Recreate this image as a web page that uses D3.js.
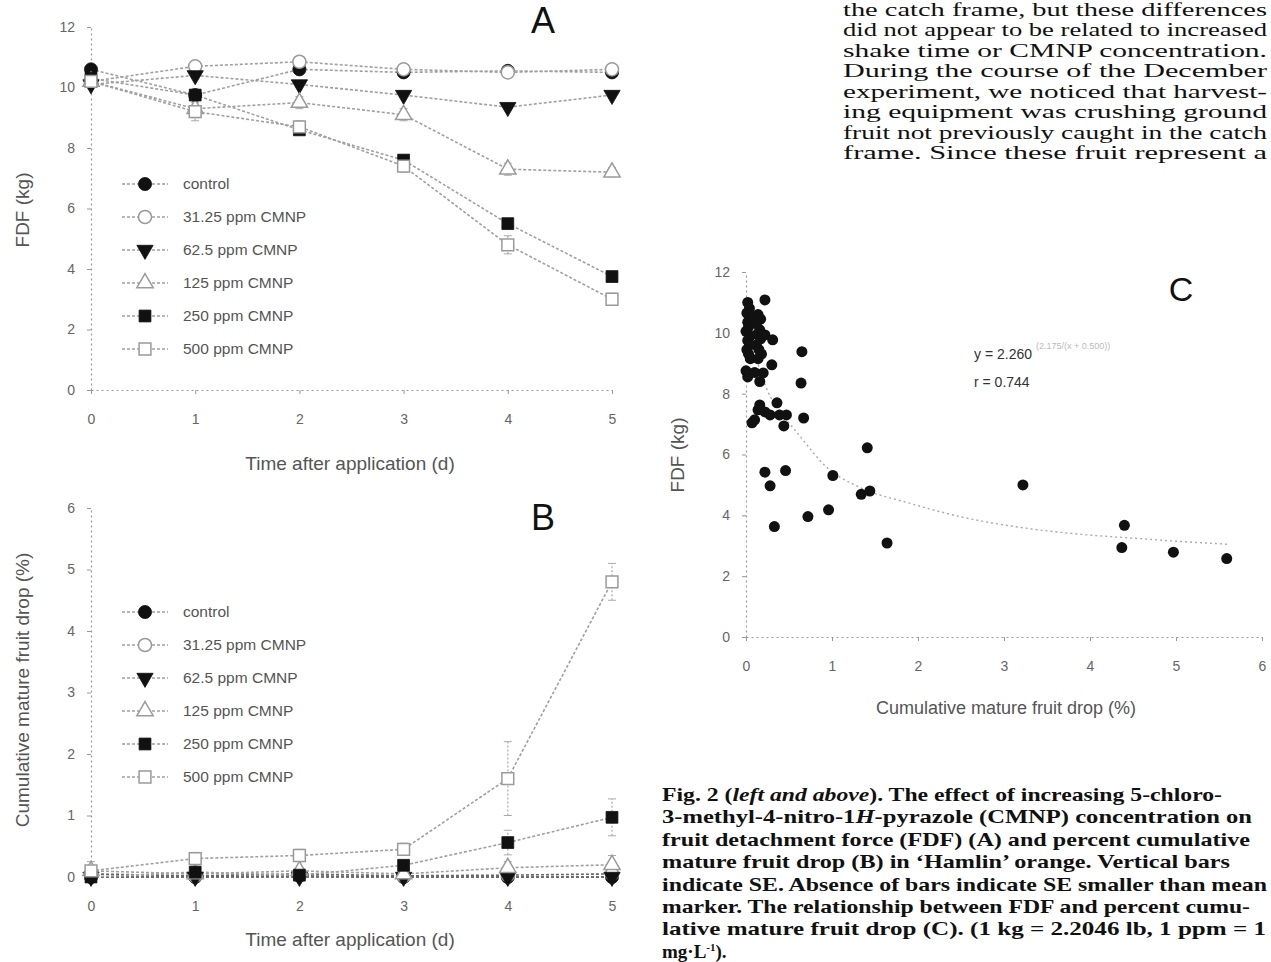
<!DOCTYPE html>
<html><head><meta charset="utf-8">
<script src="https://cdn.jsdelivr.net/npm/d3@7"></script>
<style>body{margin:0;background:#fff}svg{display:block}</style>
</head><body>
<svg id="c" width="1271" height="962"></svg>
<script>
// ---------- DATA ----------
const days = [0, 1, 2, 3, 4, 5];
const seriesNames = ["control", "31.25 ppm CMNP", "62.5 ppm CMNP", "125 ppm CMNP", "250 ppm CMNP", "500 ppm CMNP"];
const seriesSymbols = ["circleFilled", "circleOpen", "triDownFilled", "triUpOpen", "squareFilled", "squareOpen"];

// Panel A: FDF (kg)
const fdfControl = [10.6, 9.75, 10.6, 10.5, 10.55, 10.5];
const fdf3125    = [10.2, 10.7, 10.85, 10.6, 10.5, 10.6];
const fdf625     = [10.1, 10.4, 10.1, 9.75, 9.35, 9.75];
const fdf125     = [10.2, 9.3, 9.5, 9.1, 7.3, 7.2];
const fdf250     = [10.3, 9.75, 8.6, 7.6, 5.5, 3.75];
const fdf500     = [10.2, 9.2, 8.7, 7.4, 4.8, 3.0];
const fdfSE500   = [0, 0.3, 0.2, 0.2, 0.3, 0.2];
const fdfSE125   = [0, 0.3, 0.2, 0.2, 0.2, 0.15];

// Panel B: cumulative mature fruit drop (%)
const dropControl = [0, 0, 0.02, 0, 0, 0];
const drop3125    = [0.05, 0.02, 0.05, 0.02, 0.03, 0.05];
const drop625     = [0, 0, 0, 0, 0, 0];
const drop125     = [0.1, 0.05, 0.1, 0.05, 0.15, 0.2];
const drop250     = [0, 0.08, 0.03, 0.19, 0.56, 0.97];
const drop500     = [0.1, 0.3, 0.35, 0.45, 1.6, 4.8];
const dropSE500   = [0.15, 0.1, 0.1, 0.1, 0.6, 0.3];
const dropSE250   = [0, 0, 0, 0.05, 0.2, 0.3];
const dropSE125   = [0, 0, 0, 0, 0.1, 0.15];

// Panel C: scatter (drop %, FDF kg)
const scatterDrop = [0.02,0.04,0.01,0.05,0.02,0.03,0.00,0.05,0.02,0.04,0.01,0.03,0.05,0.00,0.02,
  0.14,0.17,0.12,0.16,0.13,0.17,0.12,0.15,0.18,0.14,0.10,0.20,0.16,
  0.22,0.22,0.31,0.65,0.30,0.64,0.36,0.16,0.14,0.22,0.28,0.39,0.47,0.10,0.07,0.44,0.67,1.41,
  0.22,0.46,0.28,0.33,1.01,0.72,0.96,1.34,1.44,1.64,3.22,4.40,4.37,4.97,5.59];
const scatterFDF = [11.0,10.8,10.65,10.5,10.35,10.2,10.05,9.9,9.75,9.6,9.45,9.3,9.15,8.75,8.55,
  10.6,10.45,10.3,10.1,9.95,9.8,9.6,9.45,9.3,9.15,8.7,8.68,8.4,
  11.08,9.93,9.77,9.38,8.95,8.35,7.7,7.63,7.47,7.4,7.3,7.3,7.3,7.14,7.04,6.94,7.2,6.22,
  5.42,5.47,4.97,3.63,5.31,3.96,4.18,4.69,4.80,3.09,5.0,3.67,2.94,2.79,2.58];
// fitted curve
const curveDrop = [0.02, 0.1, 0.25, 0.4, 0.6, 0.95, 1.3, 1.9, 2.5, 3.2, 4.0, 4.5, 5.0, 5.6];
const curveFDF  = [10.4, 9.4, 8.1, 7.4, 6.7, 5.55, 4.95, 4.4, 3.95, 3.6, 3.35, 3.25, 3.15, 3.05];

const ticksA = [0, 2, 4, 6, 8, 10, 12];
const ticksB = [0, 1, 2, 3, 4, 5, 6];
const ticksCx = [0, 1, 2, 3, 4, 5, 6];
const ticksCy = [0, 2, 4, 6, 8, 10, 12];

const topText = [
  "the catch frame, but these differences",
  "did not appear to be related to increased",
  "shake time or CMNP concentration.",
  "During the course of the December",
  "experiment, we noticed that harvest-",
  "ing equipment was crushing ground",
  "fruit not previously caught in the catch",
  "frame. Since these fruit represent a"
];

// ---------- DRAW ----------
const svg = d3.select("#c");
const SANS = "Liberation Sans, Arial, sans-serif";
const SERIF = "Liberation Serif, 'DejaVu Serif', serif";
const LINE = "#a0a0a0", OPEN = "#9a9a9a", TXT = "#555";

function symbolPath(kind) {
  if (kind.startsWith("circle")) return d3.symbol(d3.symbolCircle, 135)();
  if (kind.startsWith("tri")) return d3.symbol(d3.symbolTriangle, 115)();
  return d3.symbol(d3.symbolSquare, 140)();
}
function drawMarker(g, kind, x, y) {
  const p = g.append("path").attr("d", symbolPath(kind))
    .attr("transform", `translate(${x},${y})` + (kind.startsWith("triDown") ? " rotate(180)" : ""));
  if (kind.endsWith("Filled")) p.attr("fill", "#111").attr("stroke", "#111").attr("stroke-width", 0.8);
  else p.attr("fill", "#fff").attr("stroke", OPEN).attr("stroke-width", 1.5);
}

function styleAxis(g) {
  g.selectAll(".domain").attr("stroke", "#999").attr("stroke-dasharray", "2,3").attr("stroke-width", 1.2);
  g.selectAll(".tick line").attr("stroke", "#999");
  g.selectAll(".tick text").attr("fill", "#666").attr("font-family", SANS).attr("font-size", 14);
}
const fmt = d3.format("d");

function timePanel(opts) {
  const { y0, y1, ymax, yticks, series, ses, legendY, title, ytitle, ytitleY, letter, letterY, xlabY, xtitleY } = opts;
  const x = d3.scaleLinear().domain([0, 5]).range([91, 612]);
  const y = d3.scaleLinear().domain([0, ymax]).range([y0, y1]);
  const g = svg.append("g");
  const ax = g.append("g").attr("transform", `translate(0,${y0})`)
    .call(d3.axisBottom(x).tickValues(days).tickFormat(fmt).tickSize(4).tickPadding(xlabY).tickSizeOuter(0));
  styleAxis(ax);
  const ay = g.append("g").attr("transform", `translate(91,0)`)
    .call(d3.axisLeft(y).tickValues(yticks).tickFormat(fmt).tickSize(4).tickPadding(12).tickSizeOuter(0));
  styleAxis(ay);

  const line = d3.line().x((d, i) => x(days[i])).y(d => y(d));
  series.forEach((s, k) => {
    g.append("path").attr("d", line(s)).attr("fill", "none")
      .attr("stroke", k < 3 && ymax === 6 ? "#666" : LINE).attr("stroke-width", 1.6).attr("stroke-dasharray", "3,2");
  });
  ses.forEach(([k, se]) => {
    se.forEach((e, i) => {
      if (e <= 0) return;
      const v = series[k][i];
      g.append("line").attr("x1", x(days[i])).attr("x2", x(days[i]))
        .attr("y1", y(v - e)).attr("y2", y(v + e)).attr("stroke", "#aaa").attr("stroke-width", 1.2).attr("stroke-dasharray", "2,2");
      [v - e, v + e].forEach(w => g.append("line").attr("x1", x(days[i]) - 4).attr("x2", x(days[i]) + 4)
        .attr("y1", y(w)).attr("y2", y(w)).attr("stroke", "#aaa"));
    });
  });
  series.forEach((s, k) => s.forEach((v, i) => drawMarker(g, seriesSymbols[k], x(days[i]), y(v))));

  // legend
  seriesNames.forEach((n, k) => {
    const ly = legendY + k * 33;
    g.append("line").attr("x1", 122).attr("x2", 168).attr("y1", ly).attr("y2", ly)
      .attr("stroke", LINE).attr("stroke-width", 1.5).attr("stroke-dasharray", "3,2");
    drawMarker(g, seriesSymbols[k], 145, ly);
    g.append("text").attr("x", 183).attr("y", ly + 5).text(n)
      .attr("font-family", SANS).attr("font-size", 15.5).attr("fill", TXT);
  });
  g.append("text").attr("x", 350).attr("y", xtitleY).attr("text-anchor", "middle").text(title)
    .attr("font-family", SANS).attr("font-size", 19).attr("fill", TXT);
  g.append("text").attr("transform", `translate(29,${ytitleY}) rotate(-90)`).attr("text-anchor", "middle").text(ytitle)
    .attr("font-family", SANS).attr("font-size", 19).attr("fill", TXT);
  g.append("text").attr("x", 543).attr("y", letterY).attr("text-anchor", "middle").text(letter)
    .attr("font-family", SANS).attr("font-size", 36).attr("fill", "#111");
}

timePanel({
  y0: 390, y1: 27, ymax: 12, yticks: ticksA,
  series: [fdfControl, fdf3125, fdf625, fdf125, fdf250, fdf500],
  ses: [[5, fdfSE500], [3, fdfSE125]],
  legendY: 184, title: "Time after application (d)", ytitle: "FDF (kg)", ytitleY: 210,
  letter: "A", letterY: 33, xlabY: 20, xtitleY: 470
});
timePanel({
  y0: 877, y1: 508, ymax: 6, yticks: ticksB,
  series: [dropControl, drop3125, drop625, drop125, drop250, drop500],
  ses: [[5, dropSE500], [4, dropSE250], [3, dropSE125]],
  legendY: 612, title: "Time after application (d)", ytitle: "Cumulative mature fruit drop (%)", ytitleY: 690,
  letter: "B", letterY: 530, xlabY: 20, xtitleY: 946
});

// Panel C
(function () {
  const x = d3.scaleLinear().domain([0, 6]).range([746, 1262]);
  const y = d3.scaleLinear().domain([0, 12]).range([637, 272]);
  const g = svg.append("g");
  const ax = g.append("g").attr("transform", "translate(0,637)")
    .call(d3.axisBottom(x).tickValues(ticksCx).tickFormat(fmt).tickSize(4).tickPadding(20).tickSizeOuter(0));
  styleAxis(ax);
  const ay = g.append("g").attr("transform", "translate(746,0)")
    .call(d3.axisLeft(y).tickValues(ticksCy).tickFormat(fmt).tickSize(4).tickPadding(12).tickSizeOuter(0));
  styleAxis(ay);
  const line = d3.line().curve(d3.curveMonotoneX).x((d, i) => x(curveDrop[i])).y(d => y(d));
  g.append("path").attr("d", line(curveFDF)).attr("fill", "none").attr("stroke", "#aaa")
    .attr("stroke-width", 1.4).attr("stroke-dasharray", "2,3");
  scatterDrop.forEach((d, i) => g.append("circle").attr("cx", x(d)).attr("cy", y(scatterFDF[i]))
    .attr("r", 5.5).attr("fill", "#111"));
  g.append("text").attr("x", 1006).attr("y", 714).attr("text-anchor", "middle").text("Cumulative mature fruit drop (%)")
    .attr("font-family", SANS).attr("font-size", 18).attr("fill", TXT);
  g.append("text").attr("transform", "translate(684,455) rotate(-90)").attr("text-anchor", "middle").text("FDF (kg)")
    .attr("font-family", SANS).attr("font-size", 19).attr("fill", TXT);
  g.append("text").attr("x", 1181).attr("y", 301).attr("text-anchor", "middle").text("C")
    .attr("font-family", SANS).attr("font-size", 34).attr("fill", "#111");
  const eq = g.append("text").attr("x", 974).attr("y", 359).attr("font-family", SANS).attr("font-size", 14).attr("fill", "#333");
  eq.append("tspan").text("y = 2.260");
  eq.append("tspan").attr("dy", -10).attr("dx", 4).attr("font-size", 9).attr("fill", "#bbb").text("(2.175/(x + 0.500))");
  g.append("text").attr("x", 974).attr("y", 387).attr("font-family", SANS).attr("font-size", 14).attr("fill", "#333")
    .text("r = 0.744");
})();

// top-right body text (justified column)
topText.forEach((t, i) => {
  const yb = i === 0 ? 16 : 36 + (i - 1) * 20.5;
  svg.append("text").attr("x", 843).attr("y", yb).text(t)
    .attr("font-family", SERIF).attr("font-size", 18).attr("fill", "#111")
    .attr("textLength", 424).attr("lengthAdjust", "spacingAndGlyphs");
});

// caption
const cap = [
  [["Fig. 2 (", "n"], ["left and above", "i"], ["). The effect of increasing 5-chloro-", "n"]],
  [["3-methyl-4-nitro-1", "n"], ["H", "i"], ["-pyrazole (CMNP) concentration on", "n"]],
  [["fruit detachment force (FDF) (A) and percent cumulative", "n"]],
  [["mature fruit drop (B) in \u2018Hamlin\u2019 orange. Vertical bars", "n"]],
  [["indicate SE. Absence of bars indicate SE smaller than mean", "n"]],
  [["marker. The relationship between FDF and percent cumu-", "n"]],
  [["lative mature fruit drop (C). (1 kg = 2.2046 lb, 1 ppm = 1", "n"]],
  [["mg\u00B7L", "n"], ["-1", "s"], [").", "n"]]
];
const capLen = [560, 590, 588, 568, 605, 588, 604, 0];
cap.forEach((parts, i) => {
  const t = svg.append("text").attr("x", 662).attr("y", 801 + i * 22.4)
    .attr("font-family", SERIF).attr("font-size", 19).attr("font-weight", "bold").attr("fill", "#111");
  parts.forEach(([s, st]) => {
    const sp = t.append("tspan").text(s);
    if (st === "i") sp.attr("font-style", "italic");
    if (st === "s") sp.attr("font-size", 11).attr("dy", -7);
    if (st === "n" && i === 7 && s === ").") sp.attr("dy", 7);
  });
  if (capLen[i]) t.attr("textLength", capLen[i]).attr("lengthAdjust", "spacingAndGlyphs");
});
</script>
</body></html>
